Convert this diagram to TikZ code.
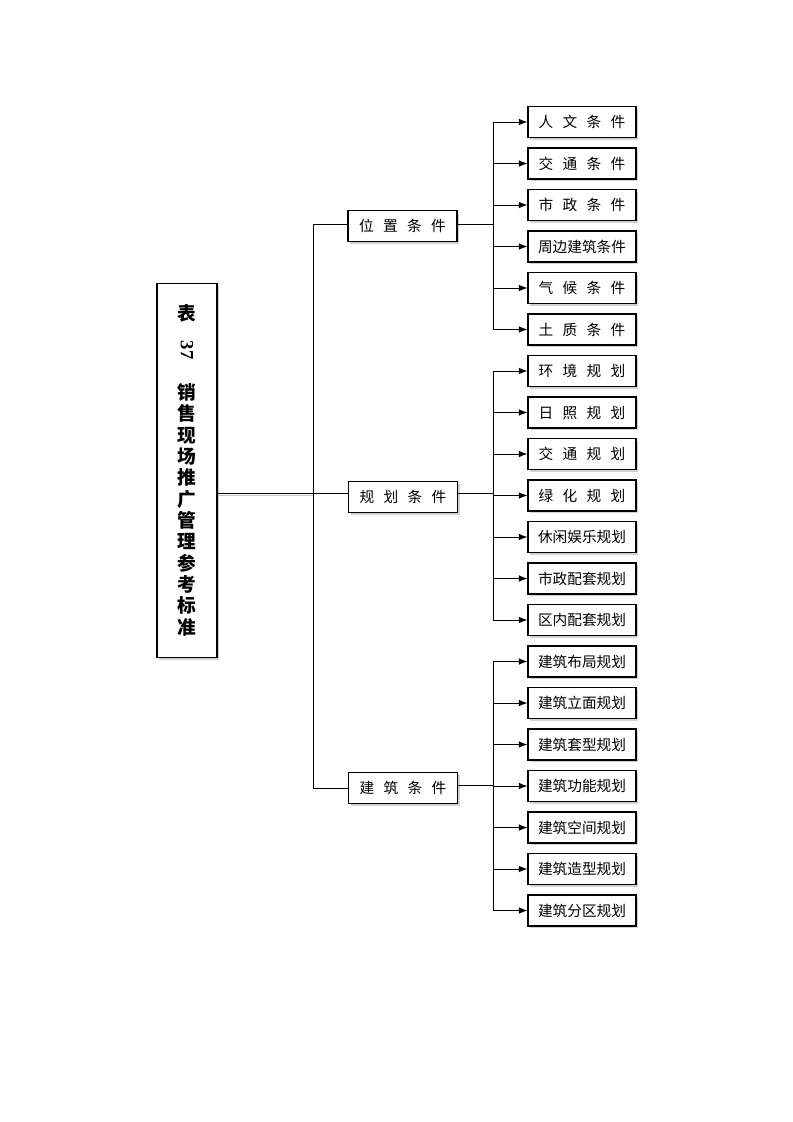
\documentclass[tikz,border=0pt]{standalone}
\usepackage{fontspec}
\setmainfont{Liberation Serif}
\newfontfamily\cjk{Noto Sans CJK SC}
\usetikzlibrary{arrows.meta,shadows}
\newcommand\gap{\hspace{7pt}}

\begin{document}
\begin{tikzpicture}[x=0.75pt, y=-0.75pt,
    every node/.style={font=\cjk\fontsize{11}{13}\selectfont},
    box/.style={draw, line width=0.8pt, fill=white, inner sep=0pt,
        drop shadow={shadow xshift=1.5pt, shadow yshift=-1.5pt, fill=gray!35, opacity=1}},
    titlebox/.style={box, minimum width=45pt, minimum height=281pt, align=center,
        font=\cjk\bfseries\fontsize{14}{16}\selectfont},
    midbox/.style={box, minimum width=81.75pt, minimum height=23.25pt},
    leafbox/.style={box, minimum width=81pt, minimum height=23.25pt},
    link/.style={line width=0.75pt},
    arr/.style={link, -{Latex[length=6.5pt,width=5pt]}}]

    \useasboundingbox (0,0) rectangle (793,1122);

    \node[titlebox] (title) at (187,470.5) {表\\[-1pt]\rotatebox{-90}{\rmfamily 37}\\[17pt]销\\售\\现\\场\\推\\广\\管\\理\\参\\考\\标\\准};

    \node[midbox] (m1) at (402.5,226) {位\gap 置\gap 条\gap 件};
    \node[midbox] (m2) at (403,497) {规\gap 划\gap 条\gap 件};
    \node[midbox] (m3) at (403,788) {建\gap 筑\gap 条\gap 件};

    \coordinate (tj) at (313,493);
    \coordinate (j1) at (493,224);
    \coordinate (j2) at (493,493);
    \coordinate (j3) at (493,785);

    % position group
    \node[leafbox] (a1) at (582,122) {人\gap 文\gap 条\gap 件};
    \node[leafbox] (a2) at (582,163.5) {交\gap 通\gap 条\gap 件};
    \node[leafbox] (a3) at (582,205) {市\gap 政\gap 条\gap 件};
    \node[leafbox] (a4) at (582,246.5) {周边建筑条件};
    \node[leafbox] (a5) at (582,288) {气\gap 候\gap 条\gap 件};
    \node[leafbox] (a6) at (582,329.5) {土\gap 质\gap 条\gap 件};

    % planning group
    \node[leafbox] (b1) at (582,371) {环\gap 境\gap 规\gap 划};
    \node[leafbox] (b2) at (582,412.5) {日\gap 照\gap 规\gap 划};
    \node[leafbox] (b3) at (582,454) {交\gap 通\gap 规\gap 划};
    \node[leafbox] (b4) at (582,495.5) {绿\gap 化\gap 规\gap 划};
    \node[leafbox] (b5) at (582,537) {休闲娱乐规划};
    \node[leafbox] (b6) at (582,578.5) {市政配套规划};
    \node[leafbox] (b7) at (582,620) {区内配套规划};

    % building group
    \node[leafbox] (c1) at (582,661.5) {建筑布局规划};
    \node[leafbox] (c2) at (582,703) {建筑立面规划};
    \node[leafbox] (c3) at (582,744.5) {建筑套型规划};
    \node[leafbox] (c4) at (582,786) {建筑功能规划};
    \node[leafbox] (c5) at (582,827.5) {建筑空间规划};
    \node[leafbox] (c6) at (582,869) {建筑造型规划};
    \node[leafbox] (c7) at (582,910.5) {建筑分区规划};

    \draw[link, preaction={draw, gray!45, transform canvas={yshift=-1.5pt}}] (title.east |- tj) -- (tj);
    \draw[link] (m1.west |- j1) -| (tj);
    \draw[link] (m2.west |- tj) -- (tj);
    \draw[link] (m3.west) -| (tj);

    \draw[link] (m1.east |- j1) -- (j1);
    \draw[link] (m2.east |- j2) -- (j2);
    \draw[link] (m3.east |- j3) -- (j3);

    \draw[arr] (j1) |- (a1.west);
    \draw[arr] (j1) |- (a2.west);
    \draw[arr] (j1) |- (a3.west);
    \draw[arr] (j1) |- (a4.west);
    \draw[arr] (j1) |- (a5.west);
    \draw[arr] (j1) |- (a6.west);

    \draw[arr] (j2) |- (b1.west);
    \draw[arr] (j2) |- (b2.west);
    \draw[arr] (j2) |- (b3.west);
    \draw[arr] (j2) |- (b4.west);
    \draw[arr] (j2) |- (b5.west);
    \draw[arr] (j2) |- (b6.west);
    \draw[arr] (j2) |- (b7.west);

    \draw[arr] (j3) |- (c1.west);
    \draw[arr] (j3) |- (c2.west);
    \draw[arr] (j3) |- (c3.west);
    \draw[arr] (j3) |- (c4.west);
    \draw[arr] (j3) |- (c5.west);
    \draw[arr] (j3) |- (c6.west);
    \draw[arr] (j3) |- (c7.west);
\end{tikzpicture}
\end{document}
